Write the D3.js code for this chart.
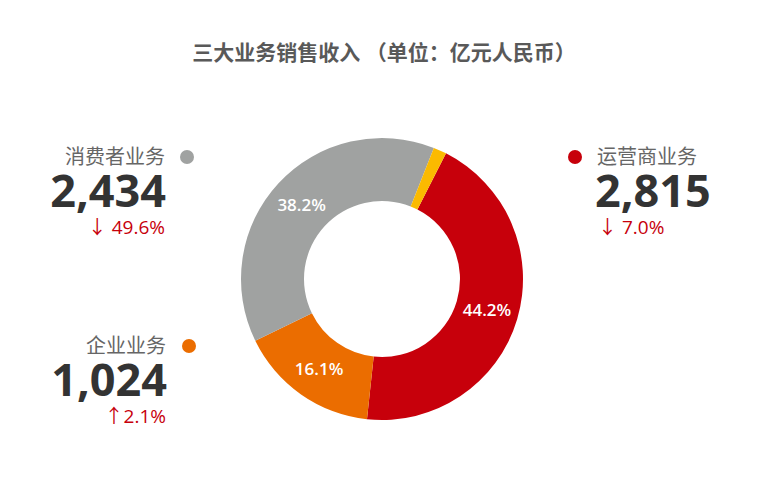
<!DOCTYPE html>
<html><head><meta charset="utf-8">
<script src="https://cdn.jsdelivr.net/npm/d3@7"></script>
<style>body{margin:0;background:#fff}svg{display:block}</style>
</head><body>
<svg id="c" width="760" height="480"></svg>
<script>
const categories = ["运营商业务", "企业业务", "消费者业务", "其他"];
const revenues = [2815, 1024, 2434, 96];
const changes = ["↓ 7.0%", "↑2.1%", "↓ 49.6%", ""];
const colors = ["#C7000B", "#EB6D00", "#A0A2A1", "#FBBA00"];
const title = "三大业务销售收入 （单位：亿元人民币）";

const svg = d3.select("#c");
const font = "'Open Sans','Noto Sans CJK SC',sans-serif";
svg.append("text").attr("x", 384).attr("y", 60).attr("text-anchor", "middle")
  .attr("font-family", font).attr("font-size", 21).attr("font-weight", "bold")
  .attr("fill", "#595959").text(title);

const cx = 382, cy = 279, R = 141, r = 78;
const total = d3.sum(revenues);
const data = categories.map((c, i) => ({c, v: revenues[i], col: colors[i], chg: changes[i]}));
const start = 27 * Math.PI / 180;
const pie = d3.pie().value(d => d.v).sort(null).startAngle(start).endAngle(start + 2 * Math.PI);
const arcs = pie(data);
const arc = d3.arc().innerRadius(r).outerRadius(R);
const g = svg.append("g").attr("transform", `translate(${cx},${cy})`);
g.selectAll("path").data(arcs).join("path").attr("d", arc).attr("fill", d => d.data.col);
const pct = d3.format(".1%");
g.selectAll("text.p").data(arcs.filter(d => d.data.v / total > 0.05)).join("text")
  .attr("class", "p")
  .attr("transform", d => `translate(${arc.centroid(d)})`)
  .attr("text-anchor", "middle").attr("dy", "0.35em")
  .attr("font-family", font).attr("font-size", 17).attr("font-weight", 600)
  .attr("fill", "#fff").text(d => pct(d.data.v / total));

const fmt = d3.format(",");
const blocks = [
  {i: 2, side: "left", x: 165, y: 164, dot: 187},
  {i: 1, side: "left", x: 166, y: 353, dot: 189},
  {i: 0, side: "right", x: 597, y: 164, dot: 575}
];
blocks.forEach(b => {
  const d = data[b.i];
  const anchor = b.side === "left" ? "end" : "start";
  svg.append("circle").attr("cx", b.dot).attr("cy", b.y - 7).attr("r", 7).attr("fill", d.col);
  svg.append("text").attr("x", b.x).attr("y", b.y).attr("text-anchor", anchor)
    .attr("font-family", font).attr("font-size", 20).attr("fill", "#666").text(d.c);
  svg.append("text").attr("x", b.x + (b.side === "left" ? 1 : -2)).attr("y", b.y + 43).attr("text-anchor", anchor)
    .attr("font-family", font).attr("font-size", 45).attr("font-weight", "bold")
    .attr("fill", "#333").text(fmt(d.v));
  svg.append("text").attr("x", b.x + (b.side === "left" ? 0 : 1)).attr("y", b.y + 70).attr("text-anchor", anchor)
    .attr("font-family", font).attr("font-size", 19).attr("fill", "#C7000B").text(d.chg);
});
</script>
</body></html>
